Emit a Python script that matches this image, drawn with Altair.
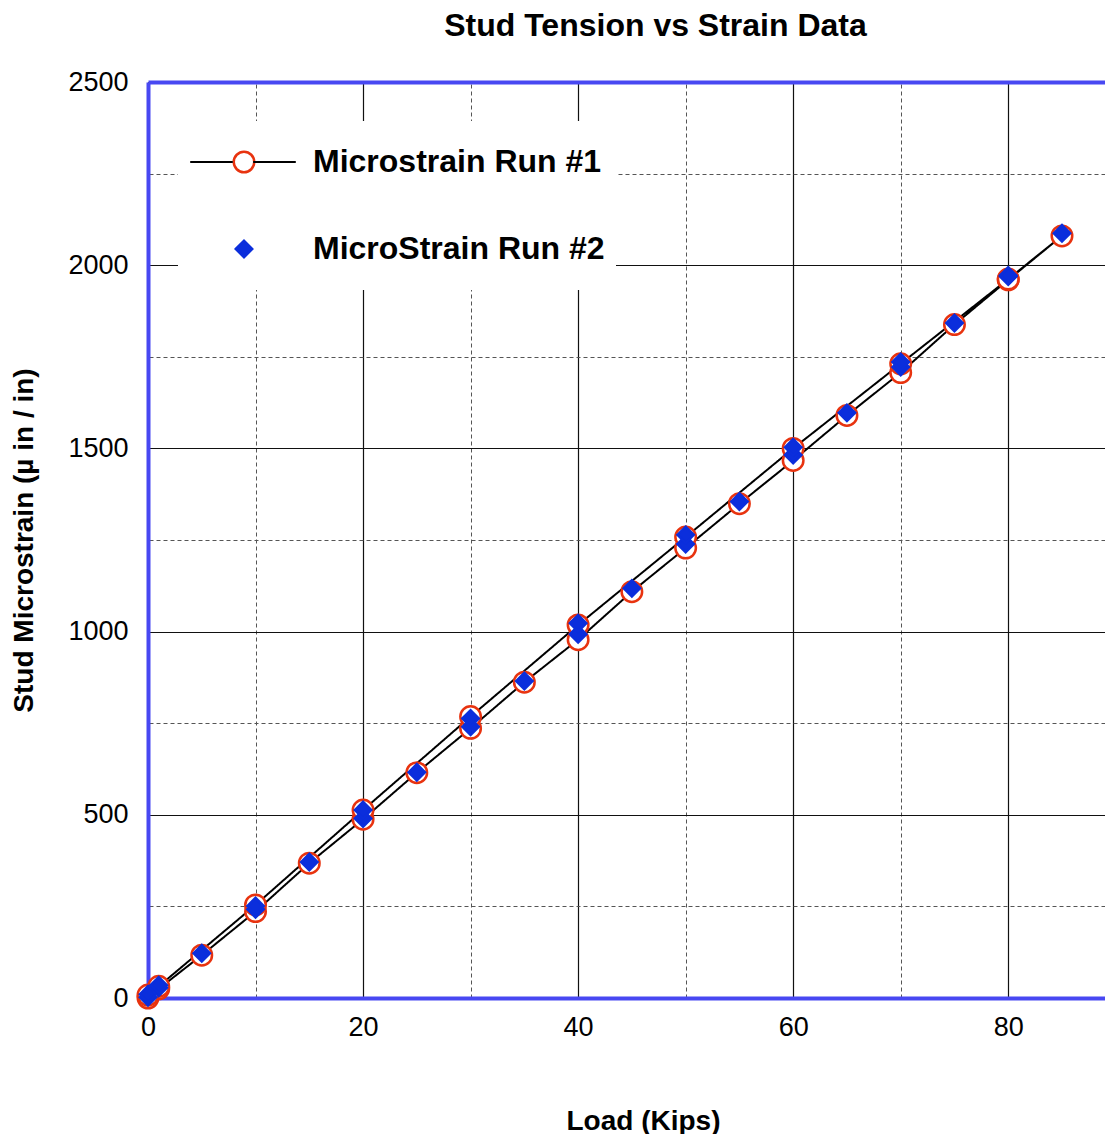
import altair as alt
import pandas as pd

SERIES = ["Microstrain Run #1", "MicroStrain Run #2"]

RUN1_LOAD = [0, 1, 5, 10, 15, 20, 25, 30, 35, 40, 45, 50, 55, 60, 65, 70, 75, 80, 85,
             80, 70, 60, 50, 40, 30, 20, 10, 1, 0]
RUN1_STRAIN = [0, 25, 117, 236, 368, 488, 615, 736, 862, 978, 1109, 1228, 1349, 1467, 1590, 1707, 1838, 1960, 2080,
               1962, 1731, 1500, 1258, 1018, 768, 513, 254, 32, 8]

RUN2_LOAD = [0, 1, 5, 10, 15, 20, 25, 30, 35, 40, 45, 50, 55, 60, 65, 70, 75, 80, 85,
             80, 70, 60, 50, 40, 30, 20, 10, 1, 0]
RUN2_STRAIN = [2, 28, 122, 242, 371, 490, 616, 740, 865, 993, 1118, 1239, 1355, 1482, 1597, 1722, 1842, 1969, 2087,
               1972, 1736, 1503, 1264, 1023, 763, 513, 251, 35, 10]

X_MAJOR = [0, 20, 40, 60, 80]
X_MINOR = [10, 30, 50, 70]
Y_MAJOR = [0, 500, 1000, 1500, 2000, 2500]
Y_MINOR = [250, 750, 1250, 1750, 2250]
X_MAX = 89.0
Y_MAX = 2500

FONT = "Liberation Sans"
BLUE_BORDER = "#4848F2"
DIAMOND = "#0B2EDC"
CIRCLE = "#E8330F"
BG = "#FFFDD5"

line_df = pd.DataFrame({
    "load": RUN1_LOAD,
    "strain": RUN1_STRAIN,
    "idx": list(range(len(RUN1_LOAD))),
    "lk": [SERIES[0]] * len(RUN1_LOAD),
})

pts_df = pd.concat([
    pd.DataFrame({"load": RUN1_LOAD, "strain": RUN1_STRAIN, "series": SERIES[0]}),
    pd.DataFrame({"load": RUN2_LOAD, "strain": RUN2_STRAIN, "series": SERIES[1]}),
], ignore_index=True)

xscale = alt.Scale(domain=[0, X_MAX], nice=False, zero=False)
yscale = alt.Scale(domain=[0, Y_MAX], nice=False, zero=False)

LEG_X, LEG_Y = 30, 39

line = alt.Chart(line_df).mark_line(color="black", strokeWidth=2).encode(
    x=alt.X("load:Q", scale=xscale, axis=alt.Axis(
        orient="bottom", values=X_MAJOR, format="d", grid=True, gridColor="#111111", gridWidth=1.2,
        domain=True, domainColor=BLUE_BORDER, domainWidth=4, ticks=False, tickSize=0,
        labelFont=FONT, labelFontSize=27, labelColor="black", labelPadding=16, labelFlush=False,
        title="Load (Kips)", titleFont=FONT, titleFontSize=28, titleFontWeight="bold", titleColor="black",
        titleX=495, titleY=123, titleAlign="center", titleBaseline="middle")),
    y=alt.Y("strain:Q", scale=yscale, axis=alt.Axis(
        orient="left", values=Y_MAJOR, format="d", grid=True, gridColor="#111111", gridWidth=1.2,
        domain=True, domainColor=BLUE_BORDER, domainWidth=4, ticks=False, tickSize=0,
        labelFont=FONT, labelFontSize=27, labelColor="black", labelPadding=20,
        title="Stud Microstrain (µ in / in)", titleFont=FONT, titleFontSize=28, titleFontWeight="bold",
        titleColor="black", titleX=-124, titleY=458, titleAngle=270, titleAlign="center",
        titleBaseline="middle")),
    order=alt.Order("idx:Q"),
    strokeDash=alt.StrokeDash("lk:N", scale=alt.Scale(domain=[SERIES[0]], range=[[1, 0]]), legend=alt.Legend(
        title=None, orient="none", legendX=LEG_X, legendY=LEG_Y, padding=11, clipHeight=60, rowPadding=27,
        symbolType="M-4.4,0L-0.85,0M0.85,0L4.4,0", symbolSize=576, symbolStrokeColor="black",
        symbolStrokeWidth=2, symbolOffset=38, labelOffset=53, labelFont=FONT, labelFontSize=32,
        labelFontWeight="bold", labelOpacity=0, labelLimit=600, zindex=3)),
)

pts = alt.Chart(pts_df).mark_point(opacity=1, strokeWidth=2.5).encode(
    x=alt.X("load:Q", scale=xscale, axis=alt.Axis(
        orient="top", values=X_MINOR, grid=True, gridColor="#555555", gridDash=[4, 3], gridWidth=1,
        domain=True, domainColor=BLUE_BORDER, domainWidth=4, ticks=False, labels=False, title=None)),
    y=alt.Y("strain:Q", scale=yscale, axis=alt.Axis(
        orient="right", values=Y_MINOR, grid=True, gridColor="#555555", gridDash=[4, 3], gridWidth=1,
        domain=False, ticks=False, labels=False, title=None)),
    shape=alt.Shape("series:N", scale=alt.Scale(domain=SERIES, range=["circle", "diamond"]), legend=alt.Legend(
        title=None, orient="none", legendX=LEG_X, legendY=LEG_Y, padding=11, clipHeight=60, rowPadding=27,
        fillColor="white", symbolOffset=39, labelOffset=53, symbolStrokeWidth=2.5,
        labelFont=FONT, labelFontSize=32, labelFontWeight="bold", labelColor="black", labelLimit=600,
        zindex=2)),
    fill=alt.Fill("series:N", scale=alt.Scale(domain=SERIES, range=["white", DIAMOND])),
    stroke=alt.Stroke("series:N", scale=alt.Scale(domain=SERIES, range=[CIRCLE, DIAMOND])),
    size=alt.Size("series:N", scale=alt.Scale(domain=SERIES, range=[420, 270])),
)

chart = alt.layer(line, pts).resolve_axis(x="independent", y="independent").properties(
    width=957, height=916,
    autosize=alt.AutoSizeParams(type="none"),
    padding={"left": 140, "top": 74, "right": 0, "bottom": 136},
    title=alt.TitleParams("Stud Tension vs Strain Data", font=FONT, fontSize=32, fontWeight="bold",
                          color="black", anchor="middle", dx=29, offset=0, baseline="alphabetic"),
).configure_view(fill=BG, stroke=None).configure(background="white")

chart.save("out.html", embed_options={"renderer": "svg", "actions": False})
